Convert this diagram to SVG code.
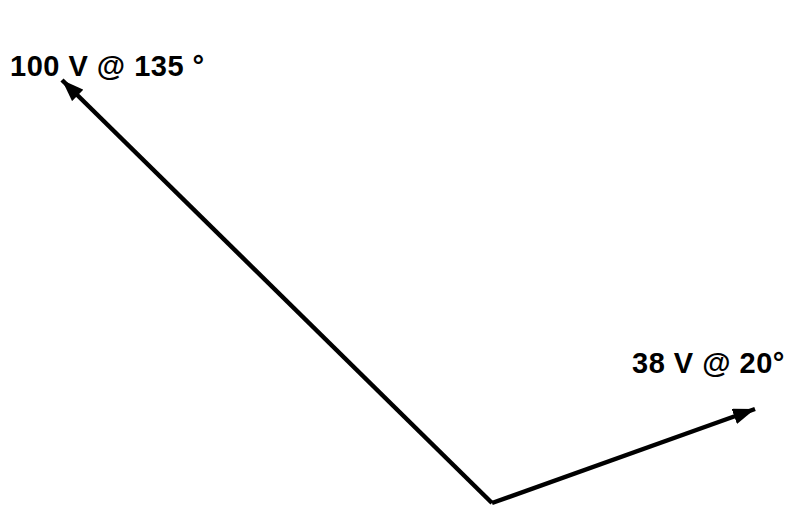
<svg xmlns="http://www.w3.org/2000/svg" width="807" height="512" viewBox="0 0 807 512">
<style>
.lbl{font-family:"Liberation Sans",Arial,sans-serif;font-weight:bold;font-size:29px;fill:#000;letter-spacing:0.5px}
.vec{stroke:#000;stroke-width:4.5;fill:none}
</style>
<defs>
<marker id="ah" markerUnits="userSpaceOnUse" markerWidth="24" markerHeight="16" refX="22" refY="8" orient="auto">
<path d="M0,0 L22,8 L0,16 Z" fill="#000"/>
</marker>
</defs>
<rect width="807" height="512" fill="#fff"/>
<g id="connectors">
<line class="vec" x1="492" y1="503" x2="62" y2="80" marker-end="url(#ah)"/>
<line class="vec" x1="492" y1="503" x2="755" y2="409" marker-end="url(#ah)"/>
</g>
<g id="label1"><text class="lbl" x="10" y="76">100 V @ 135 °</text></g>
<g id="label2"><text class="lbl" x="632" y="373">38 V @ 20°</text></g>
</svg>
